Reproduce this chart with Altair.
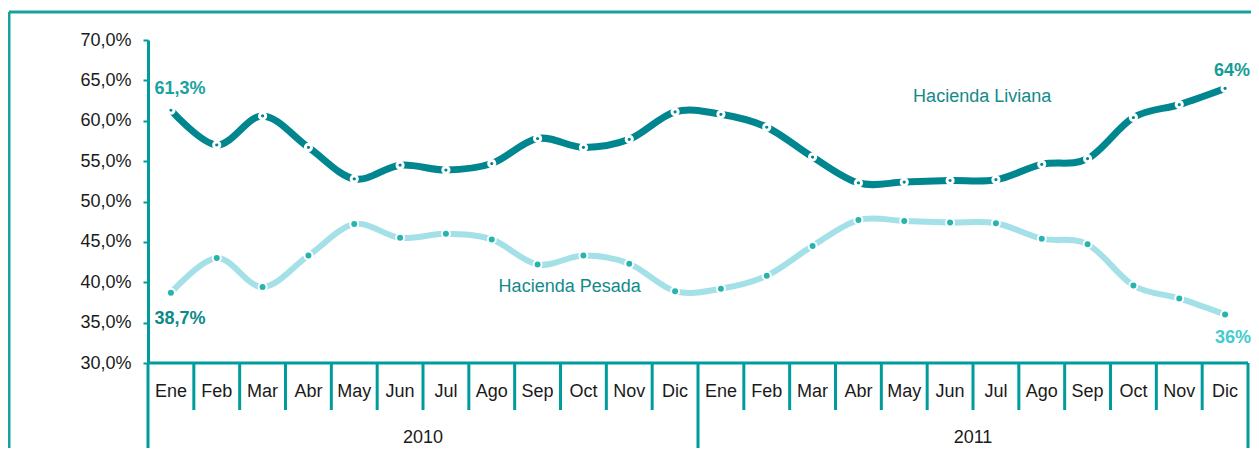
import altair as alt
import pandas as pd

months = ["Ene", "Feb", "Mar", "Abr", "May", "Jun", "Jul", "Ago", "Sep", "Oct", "Nov", "Dic"]
years = ["2010", "2011"]
liviana = [61.3, 57.0, 60.6, 56.7, 52.8, 54.5, 53.9, 54.7, 57.8, 56.7, 57.7, 61.1,
           60.8, 59.2, 55.5, 52.3, 52.4, 52.6, 52.7, 54.6, 55.3, 60.4, 62.0, 64.0]
pesada = [38.7, 43.0, 39.4, 43.3, 47.2, 45.5, 46.0, 45.3, 42.2, 43.3, 42.3, 38.9,
          39.2, 40.8, 44.5, 47.7, 47.6, 47.4, 47.3, 45.4, 44.7, 39.6, 38.0, 36.0]
y_ticks = [30, 35, 40, 45, 50, 55, 60, 65, 70]

AXIS = "#009B9B"
FRAME = "#16A39E"
DARK = "#00868F"
LIGHT = "#A3E0E8"
LIGHT_DOT = "#27B4AE"
FONT = "Liberation Sans"

n = len(liviana)
labels = [months[i % 12] for i in range(n)]
df = pd.DataFrame({
    "x": [i + 0.5 for i in range(n)],
    "mes": labels,
    "liviana": liviana,
    "pesada": pesada,
})

W, H = 1100, 323
xs = alt.Scale(domain=[0, n], nice=False, zero=False)
ys = alt.Scale(domain=[30, 70], nice=False, zero=False)
px_x = W / n          # pixels per x unit
px_y = H / 40.0       # pixels per percentage point

base = alt.Chart(df)

y_axis = alt.Axis(
    values=y_ticks,
    labelExpr="replace(format(datum.value, '.1f'), '.', ',') + '%'",
    domainColor=AXIS, domainWidth=3, tickColor=AXIS, tickWidth=2, tickSize=5,
    labelFont=FONT, labelFontSize=18, labelColor="#1a1a1a", labelPadding=12,
    grid=False, title=None,
)

# chart frame, placed in pixels outside the plot area (converted to scale units)
fx = -139 / px_x
fy_top = 70 + 28 / px_y
fy_bot = 30 - 100 / px_y
frame_v = alt.Chart(pd.DataFrame({"fx": [fx], "fy": [fy_top], "fy2": [fy_bot]})).mark_rule(
    color=FRAME, strokeWidth=3).encode(
    x=alt.X("fx:Q", scale=xs, axis=None),
    y=alt.Y("fy:Q", scale=ys), y2="fy2:Q")
frame_h = alt.Chart(pd.DataFrame({"fx": [fx], "fx2": [n + 1.0], "fy": [fy_top]})).mark_rule(
    color=FRAME, strokeWidth=3).encode(
    x=alt.X("fx:Q", scale=xs, axis=None), x2="fx2:Q",
    y=alt.Y("fy:Q", scale=ys))

xline = alt.Chart(pd.DataFrame({"x0": [0.0], "x1": [float(n)], "y0": [30.0]})).mark_rule(
    color=AXIS, strokeWidth=3).encode(
    x=alt.X("x0:Q", scale=xs, axis=None), x2="x1:Q", y=alt.Y("y0:Q", scale=ys))

sep_df = pd.DataFrame({"b": list(range(n + 1))})
month_seps = alt.Chart(sep_df).transform_filter("datum.b % 12 != 0").mark_rule(
    color=AXIS, strokeWidth=3).encode(
    x=alt.X("b:Q", scale=xs, axis=None), y=alt.value(323), y2=alt.value(370))
year_seps = alt.Chart(sep_df).transform_filter("datum.b % 12 == 0").mark_rule(
    color=AXIS, strokeWidth=3).encode(
    x=alt.X("b:Q", scale=xs, axis=None), y=alt.value(323), y2=alt.value(420))

month_text = base.mark_text(font=FONT, fontSize=18, color="#1a1a1a", baseline="middle").encode(
    x=alt.X("x:Q", scale=xs, axis=None), y=alt.value(352), text="mes:N")

year_df = pd.DataFrame({"yr": years, "xc": [6, 18]})
year_text = alt.Chart(year_df).mark_text(font=FONT, fontSize=18, color="#1a1a1a", baseline="middle").encode(
    x=alt.X("xc:Q", scale=xs, axis=None), y=alt.value(398), text="yr:N")

line_l = base.mark_line(color=DARK, strokeWidth=7, interpolate="cardinal").encode(
    x=alt.X("x:Q", scale=xs, axis=None),
    y=alt.Y("liviana:Q", scale=ys, axis=y_axis))
line_p = base.mark_line(color=LIGHT, strokeWidth=6, interpolate="cardinal").encode(
    x=alt.X("x:Q", scale=xs, axis=None),
    y=alt.Y("pesada:Q", scale=ys))
pts_l = base.mark_point(filled=True, shape="circle", size=38, color=DARK, stroke="white",
                        strokeWidth=3, opacity=1).encode(
    x=alt.X("x:Q", scale=xs, axis=None), y=alt.Y("liviana:Q", scale=ys))
pts_p = base.mark_point(filled=True, shape="circle", size=64, color=LIGHT_DOT, stroke="white",
                        strokeWidth=2, opacity=1).encode(
    x=alt.X("x:Q", scale=xs, axis=None), y=alt.Y("pesada:Q", scale=ys))

def label(text, xv, yv, color, dx, dy):
    d = pd.DataFrame({"t": [text], "xv": [xv], "yv": [yv]})
    return alt.Chart(d).mark_text(font=FONT, fontSize=18, fontWeight="bold",
                                  color=color, dx=dx, dy=dy, baseline="alphabetic", align="center").encode(
        x=alt.X("xv:Q", scale=xs, axis=None), y=alt.Y("yv:Q", scale=ys), text="t:N")

lab1 = label("61,3%", 0.5, liviana[0], "#1AA3A0", 9, -16)
lab2 = label("38,7%", 0.5, pesada[0], "#0B8B88", 9, 31)
lab3 = label("64%", n - 0.5, liviana[-1], "#169C98", 7, -12)
lab4 = label("36%", n - 0.5, pesada[-1], "#45CBD0", 8, 28)

def name(text, xv, yv):
    d = pd.DataFrame({"t": [text], "xv": [xv], "yv": [yv]})
    return alt.Chart(d).mark_text(font=FONT, fontSize=18, color="#138A8A", baseline="middle").encode(
        x=alt.X("xv:Q", scale=xs, axis=None), y=alt.Y("yv:Q", scale=ys), text="t:N")

name_l = name("Hacienda Liviana", 18.2, 62.9)
name_p = name("Hacienda Pesada", 9.2, 39.4)

chart = alt.layer(
    frame_v, frame_h,
    month_seps, year_seps, xline,
    line_p, line_l, pts_p, pts_l,
    month_text, year_text, lab1, lab2, lab3, lab4, name_l, name_p,
).properties(
    width=W, height=H,
    autosize=alt.AutoSizeParams(type="none"),
    padding={"left": 140, "top": 32, "right": 3, "bottom": 85},
).configure_view(stroke=None)

chart.save("out.html", embed_options={"renderer": "svg", "actions": False})
